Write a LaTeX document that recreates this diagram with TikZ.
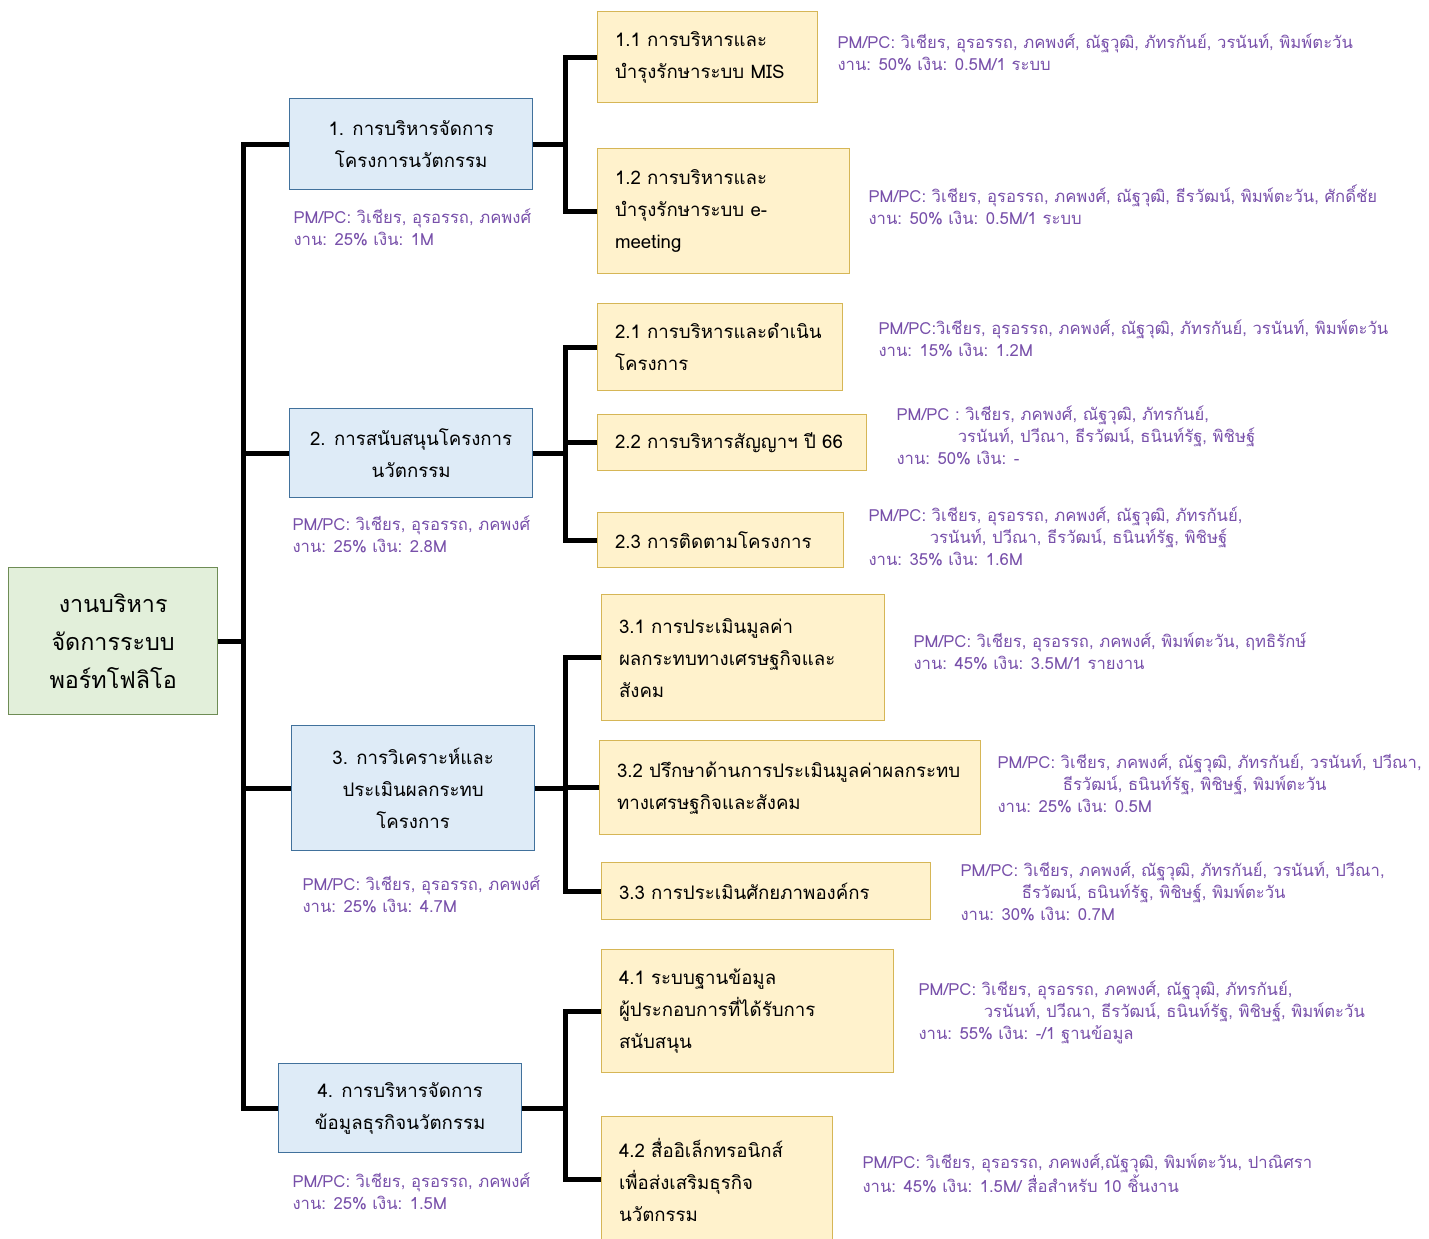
\documentclass[tikz,border=0pt]{standalone}
\usepackage{fontspec}
\setmainfont{Loma}[Script=Thai]

\tikzset{every picture/.style={line width=0.75pt}}
\tikzset{
  conn/.style={line width=3.75pt},
  rootbox/.style={draw={rgb, 255:red, 110; green, 140; blue, 85}, fill={rgb, 255:red, 226; green, 239; blue, 218}, line width=1pt,
    minimum width=156.75pt, minimum height=110.25pt, align=center, anchor=north west, font=\fontsize{17.5}{28.5}\selectfont},
  mainbox/.style={draw={rgb, 255:red, 65; green, 113; blue, 156}, fill={rgb, 255:red, 222; green, 235; blue, 247}, line width=1pt,
    minimum width=182.25pt, minimum height=#1, align=center, anchor=north west, font=\fontsize{14}{24}\selectfont},
  subbox/.style 2 args={draw={rgb, 255:red, 214; green, 182; blue, 86}, fill={rgb, 255:red, 255; green, 242; blue, 204}, line width=1pt,
    text width=#1, minimum height=#2, inner xsep=13pt, align=left, anchor=north west, font=\fontsize{14}{24}\selectfont},
  note/.style={text={rgb, 255:red, 120; green, 80; blue, 170}, align=left, anchor=west, inner sep=0pt, font=\fontsize{12.5}{16.5}\selectfont},
}

\begin{document}
\begin{tikzpicture}[x=0.75pt,y=0.75pt,yscale=-1,xscale=1]
	\useasboundingbox (0,0) rectangle (1429,1239);
	\coordinate (t) at (243,0);
	\coordinate (k) at (565,0);

	%Shape: Rectangle
	\node [rootbox] (root) at (8,567) {งานบริหาร\\จัดการระบบ\\พอร์ทโฟลิโอ};

	%Shape: Rectangle
	\node [mainbox=68.25pt] (p1) at (289,98) {1. การบริหารจัดการ\\โครงการนวัตกรรม};
	%Shape: Rectangle
	\node [mainbox=66.75pt] (p2) at (289,408) {2. การสนับสนุนโครงการ\\นวัตกรรม};
	%Shape: Rectangle
	\node [mainbox=93.75pt] (p3) at (291,725) {3. การวิเคราะห์และ\\ประเมินผลกระทบ\\โครงการ};
	%Shape: Rectangle
	\node [mainbox=66.75pt] (p4) at (278,1063) {4. การบริหารจัดการ\\ข้อมูลธุรกิจนวัตกรรม};

	%Shape: Rectangle
	\node [subbox={139pt}{68.25pt}] (p11) at (597,11) {1.1 การบริหารและ\\บำรุงรักษาระบบ MIS};
	%Shape: Rectangle
	\node [subbox={163pt}{93.75pt}] (p12) at (597,148) {1.2 การบริหารและ\\บำรุงรักษาระบบ e-\\meeting};
	%Shape: Rectangle
	\node [subbox={157.75pt}{65.25pt}] (p21) at (597,303) {2.1 การบริหารและดำเนิน\\โครงการ};
	%Shape: Rectangle
	\node [subbox={175.75pt}{42pt}] (p22) at (597,414) {2.2 การบริหารสัญญาฯ ปี 66};
	%Shape: Rectangle
	\node [subbox={158.5pt}{41.25pt}] (p23) at (597,512) {2.3 การติดตามโครงการ};
	%Shape: Rectangle
	\node [subbox={186.25pt}{94.5pt}] (p31) at (601,594) {3.1 การประเมินมูลค่า\\ผลกระทบทางเศรษฐกิจและ\\สังคม};
	%Shape: Rectangle
	\node [subbox={259.75pt}{70.5pt}] (p32) at (599,740) {3.2 ปรึกษาด้านการประเมินมูลค่าผลกระทบ\\ทางเศรษฐกิจและสังคม};
	%Shape: Rectangle
	\node [subbox={220.75pt}{42.75pt}] (p33) at (601,862) {3.3 การประเมินศักยภาพองค์กร};
	%Shape: Rectangle
	\node [subbox={193pt}{92.25pt}] (p41) at (601,949) {4.1 ระบบฐานข้อมูล\\ผู้ประกอบการที่ได้รับการ\\สนับสนุน};
	%Shape: Rectangle
	\node [subbox={147.25pt}{94.5pt}] (p42) at (601,1116) {4.2 สื่ออิเล็กทรอนิกส์\\เพื่อส่งเสริมธุรกิจ\\นวัตกรรม};

	%Straight Lines
	\draw [conn] (p1.west) -- (p1.west -| t) -- (p4.west -| t) -- (p4.west);
	\draw [conn] (root.east) -- (root.east -| t);
	\foreach \n in {p2,p3} \draw [conn] (\n.west -| t) -- (\n.west);

	%Straight Lines
	\foreach \a/\b/\c in {p1/p11/p12,p2/p21/p23,p3/p31/p33,p4/p41/p42}{
		\draw [conn] (\b.west) -- (\b.west -| k) -- (\c.west -| k) -- (\c.west);
		\draw [conn] (\a.east) -- (\a.east -| k);
	}
	\draw [conn] (p22.west -| k) -- (p22.west);
	\draw [conn] (p32.west -| k) -- (p32.west);

	% Text Node
	\draw (293,227) node [note] (n1) {PM/PC: วิเชียร, อุรอรรถ, ภคพงศ์\\งาน: 25\% เงิน: 1M};
	% Text Node
	\draw (292,534.5) node [note] (n2) {PM/PC: วิเชียร, อุรอรรถ, ภคพงศ์\\งาน: 25\% เงิน: 2.8M};
	% Text Node
	\draw (302,894.5) node [note] (n3) {PM/PC: วิเชียร, อุรอรรถ, ภคพงศ์\\งาน: 25\% เงิน: 4.7M};
	% Text Node
	\draw (292,1191.5) node [note] (n4) {PM/PC: วิเชียร, อุรอรรถ, ภคพงศ์\\งาน: 25\% เงิน: 1.5M};

	% Text Node
	\draw (837,52) node [note] (n11) {PM/PC: วิเชียร, อุรอรรถ, ภคพงศ์, ณัฐวุฒิ, ภัทรกันย์, วรนันท์, พิมพ์ตะวัน\\งาน: 50\% เงิน: 0.5M/1 ระบบ};
	% Text Node
	\draw (868,205) node [note] (n12) {PM/PC: วิเชียร, อุรอรรถ, ภคพงศ์, ณัฐวุฒิ, ธีรวัฒน์, พิมพ์ตะวัน, ศักดิ์ชัย\\งาน: 50\% เงิน: 0.5M/1 ระบบ};
	% Text Node
	\draw (878,338) node [note] (n21) {PM/PC:วิเชียร, อุรอรรถ, ภคพงศ์, ณัฐวุฒิ, ภัทรกันย์, วรนันท์, พิมพ์ตะวัน\\งาน: 15\% เงิน: 1.2M};
	% Text Node
	\draw (896,435) node [note] (n22) {PM/PC : วิเชียร, ภคพงศ์, ณัฐวุฒิ, ภัทรกันย์,\\\hspace*{46pt}วรนันท์, ปวีณา, ธีรวัฒน์, ธนินท์รัฐ, พิชิษฐ์\\งาน: 50\% เงิน: -};
	% Text Node
	\draw (868,536.5) node [note] (n23) {PM/PC: วิเชียร, อุรอรรถ, ภคพงศ์, ณัฐวุฒิ, ภัทรกันย์,\\\hspace*{46pt}วรนันท์, ปวีณา, ธีรวัฒน์, ธนินท์รัฐ, พิชิษฐ์\\งาน: 35\% เงิน: 1.6M};
	% Text Node
	\draw (913,651) node [note] (n31) {PM/PC: วิเชียร, อุรอรรถ, ภคพงศ์, พิมพ์ตะวัน, ฤทธิรักษ์\\งาน: 45\% เงิน: 3.5M/1 รายงาน};
	% Text Node
	\draw (997,783) node [note] (n32) {PM/PC: วิเชียร, ภคพงศ์, ณัฐวุฒิ, ภัทรกันย์, วรนันท์, ปวีณา,\\\hspace*{49pt}ธีรวัฒน์, ธนินท์รัฐ, พิชิษฐ์, พิมพ์ตะวัน\\งาน: 25\% เงิน: 0.5M};
	% Text Node
	\draw (960,891.5) node [note] (n33) {PM/PC: วิเชียร, ภคพงศ์, ณัฐวุฒิ, ภัทรกันย์, วรนันท์, ปวีณา,\\\hspace*{46pt}ธีรวัฒน์, ธนินท์รัฐ, พิชิษฐ์, พิมพ์ตะวัน\\งาน: 30\% เงิน: 0.7M};
	% Text Node
	\draw (918,1012) node [note] (n41) {PM/PC: วิเชียร, อุรอรรถ, ภคพงศ์, ณัฐวุฒิ, ภัทรกันย์,\\\hspace*{49pt}วรนันท์, ปวีณา, ธีรวัฒน์, ธนินท์รัฐ, พิชิษฐ์, พิมพ์ตะวัน\\งาน: 55\% เงิน: -/1 ฐานข้อมูล};
	% Text Node
	\draw (862,1173.5) node [note] (n42) {PM/PC: วิเชียร, อุรอรรถ, ภคพงศ์,ณัฐวุฒิ, พิมพ์ตะวัน, ปาณิศรา\\งาน: 45\% เงิน: 1.5M/ สื่อสำหรับ 10 ชิ้นงาน};

\end{tikzpicture}
\end{document}
